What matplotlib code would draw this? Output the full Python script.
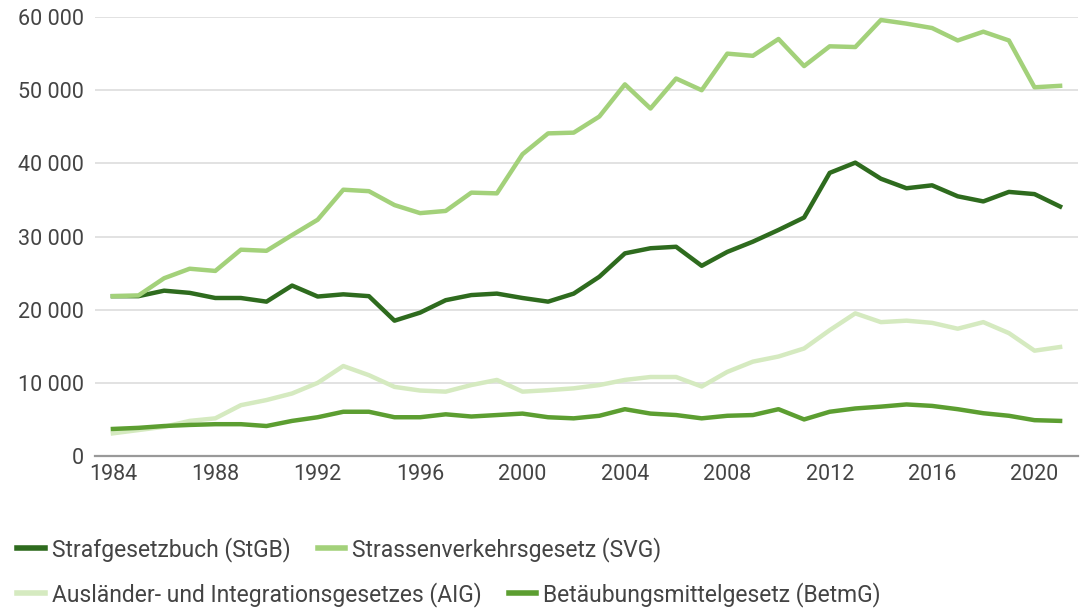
import matplotlib.pyplot as plt
from matplotlib.ticker import FuncFormatter

years = list(range(1984, 2022))

# Strafgesetzbuch
stgb = [21850, 21850, 22600, 22300, 21600, 21600, 21100, 23300, 21800, 22100,
        21850, 18500, 19600, 21300, 22000, 22200, 21600, 21100, 22200, 24500,
        27700, 28400, 28600, 26000, 27900, 29300, 30900, 32600, 38700, 40100,
        37900, 36600, 37000, 35500, 34800, 36100, 35800, 34100]
# Strassenverkehrsgesetz
svg = [21850, 21950, 24300, 25600, 25300, 28200, 28050, 30200, 32300, 36400,
       36200, 34300, 33200, 33500, 36000, 35900, 41250, 44100, 44200, 46400,
       50800, 47500, 51600, 50000, 55000, 54700, 57000, 53300, 56000, 55900,
       59600, 59100, 58500, 56800, 58000, 56800, 50400, 50600]
# Ausländer- und Integrationsgesetz
aig = [3100, 3550, 4000, 4800, 5150, 6950, 7650, 8550, 10000, 12300,
       11050, 9450, 8950, 8800, 9700, 10400, 8800, 9000, 9250, 9700,
       10400, 10800, 10800, 9500, 11500, 12900, 13600, 14700, 17200, 19500,
       18300, 18500, 18200, 17400, 18300, 16800, 14400, 14900]
# Betäubungsmittelgesetz
betmg = [3700, 3850, 4100, 4250, 4350, 4350, 4100, 4800, 5300, 6050,
         6050, 5300, 5300, 5700, 5400, 5600, 5800, 5300, 5150, 5500,
         6400, 5800, 5600, 5150, 5500, 5600, 6400, 5000, 6050, 6500,
         6750, 7050, 6850, 6400, 5850, 5500, 4900, 4800]

labels = ["Strafgesetzbuch (StGB)", "Strassenverkehrsgesetz (SVG)",
          "Ausländer- und Integrationsgesetzes (AIG)", "Betäubungsmittelgesetz (BetmG)"]
colors = ["#2e6b1e", "#a3d17a", "#d5eac0", "#5c9e31"]

plt.rcParams['font.family'] = ['Roboto', 'DejaVu Sans']

fig = plt.figure(figsize=(10.83, 6.09), dpi=100)
ax = fig.add_axes([0.0877, 0.2512, 0.9077, 0.7208])

lines = []
for data, col, lab in zip([stgb, svg, aig, betmg], colors, labels):
    l, = ax.plot(years, data, color=col, lw=3.2, label=lab)
    lines.append(l)

ax.set_xlim(1983.3, 2021.7)
ax.set_ylim(0, 60000)
ax.set_xticks(range(1984, 2022, 4))
ax.set_yticks(range(0, 60001, 10000))
ax.yaxis.set_major_formatter(FuncFormatter(lambda v, p: f"{int(v):,}".replace(",", " ")))
ax.grid(axis='y', color='#dddddd', lw=1.2)
ax.set_axisbelow(True)
for s in ['top', 'right', 'left']:
    ax.spines[s].set_visible(False)
ax.spines['bottom'].set_color('#999999')
ax.spines['bottom'].set_linewidth(1.6)
ax.tick_params(length=0, labelsize=15.5, colors='#444444', pad=8)
ax.tick_params(axis='x', pad=6)

leg_kw = dict(ncol=2, frameon=False, fontsize=16.5, handlelength=1.2,
              handletextpad=0.3, columnspacing=1.2, borderaxespad=0, borderpad=0)
leg1 = fig.legend(handles=lines[:2], loc='center left', bbox_to_anchor=(0.016, 0.098), **leg_kw)
leg2 = fig.legend(handles=lines[2:], loc='center left', bbox_to_anchor=(0.016, 0.024), **leg_kw)
for lg in (leg1, leg2):
    for t in lg.get_texts():
        t.set_color('#444444')
    for h in lg.legend_handles:
        h.set_linewidth(4)

fig.savefig("out.png", dpi=100)
